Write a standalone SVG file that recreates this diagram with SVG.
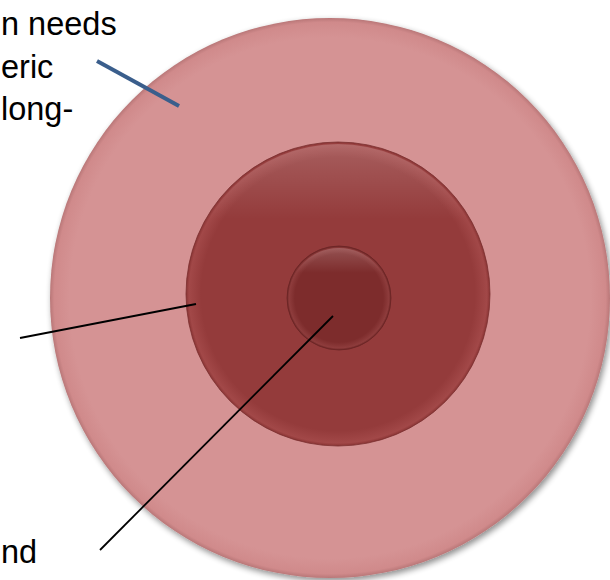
<svg xmlns="http://www.w3.org/2000/svg" width="610" height="580" viewBox="0 0 610 580">
<defs>
<style>
.lbl{font-family:"Liberation Sans",Arial,sans-serif;font-size:32.5px;fill:#000}
.ln{stroke:#000;stroke-width:1.8;fill:none}
</style>
<filter id="sh" x="-10%" y="-10%" width="120%" height="120%">
<feGaussianBlur in="SourceAlpha" stdDeviation="3"/>
<feOffset dx="2" dy="3" result="b"/>
<feComponentTransfer><feFuncA type="linear" slope="0.45"/></feComponentTransfer>
<feMerge><feMergeNode/><feMergeNode in="SourceGraphic"/></feMerge>
</filter>
<radialGradient id="gOuter" cx="0.5" cy="0.5" r="0.5">
<stop offset="0.93" stop-color="#d59394"/>
<stop offset="0.985" stop-color="#d08a8b"/>
<stop offset="1" stop-color="#b97778"/>
</radialGradient>
<radialGradient id="gMid" cx="0.5" cy="0.5" r="0.5">
<stop offset="0.9" stop-color="#943b3b"/>
<stop offset="0.98" stop-color="#a24848"/>
<stop offset="1" stop-color="#8a3434"/>
</radialGradient>
<radialGradient id="gIn" cx="0.5" cy="0.5" r="0.5">
<stop offset="0.85" stop-color="#7d2c2c"/>
<stop offset="0.96" stop-color="#8e3c3c"/>
<stop offset="1" stop-color="#6e2525"/>
</radialGradient>
<linearGradient id="hl" x1="0" y1="0" x2="0" y2="1">
<stop offset="0" stop-color="#fff" stop-opacity="0.18"/>
<stop offset="0.25" stop-color="#fff" stop-opacity="0"/>
</linearGradient>
</defs>
<rect width="610" height="580" fill="#fff"/>
<g id="outer-circle">
<circle cx="330" cy="298" r="280" fill="url(#gOuter)" filter="url(#sh)"/>
</g>
<g id="middle-circle">
<circle cx="338" cy="294" r="152" fill="url(#gMid)" stroke="#7a2e2e" stroke-width="0.8"/>
<circle cx="338" cy="294" r="150" fill="url(#hl)"/>
</g>
<g id="inner-circle">
<circle cx="339" cy="298" r="52" fill="url(#gIn)" stroke="#6a2424" stroke-width="0.8"/>
<circle cx="339" cy="298" r="50" fill="url(#hl)"/>
</g>
<g id="labels">
<text class="lbl" x="1" y="35">n needs</text>
<text class="lbl" x="1" y="78">eric</text>
<text class="lbl" x="1" y="120">long-</text>
<text class="lbl" x="1" y="563">nd</text>
</g>
<g id="connectors">
<line x1="97" y1="61" x2="179" y2="106" stroke="#3a5e8c" stroke-width="4"/>
<line class="ln" x1="20" y1="338" x2="196" y2="304"/>
<line class="ln" x1="100" y1="550" x2="333" y2="316"/>
</g>
</svg>
